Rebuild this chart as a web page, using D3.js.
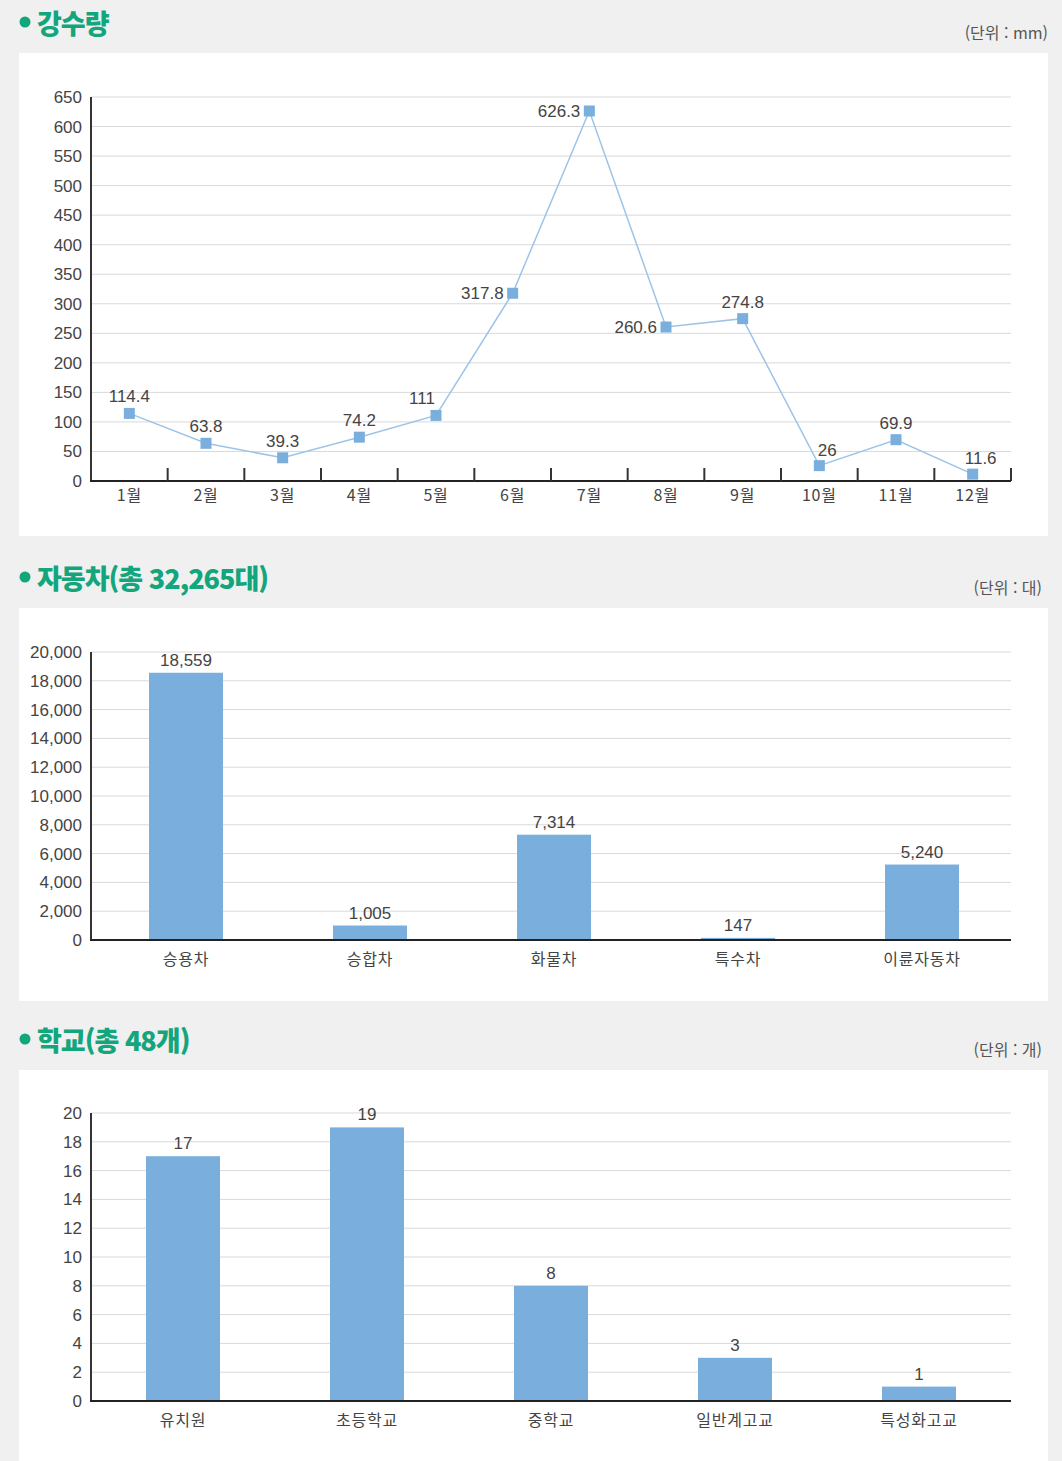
<!DOCTYPE html>
<html lang="ko">
<head>
<meta charset="UTF-8">
<title>강수량 · 자동차 · 학교</title>
<script src="https://d3js.org/d3.v7.min.js"></script>
<style>
  body { margin: 0; background: #f0f0f0; font-family: "Noto Sans CJK KR", "Noto Sans", sans-serif; }
  svg { display: block; }
  .grid line { stroke: #d9d9d9; stroke-width: 1; }
  .tick-label { font-size: 17px; fill: #444; font-family: "Liberation Sans", Arial, sans-serif; }
  .cat-label { font-size: 16px; fill: #444; letter-spacing: 0.8px; }
  .val-label { font-size: 17px; fill: #444; font-family: "Liberation Sans", Arial, sans-serif; }
  .title { font-size: 27px; font-weight: 900; fill: #13a57b; letter-spacing: -1px; }
  .unit { font-size: 16px; fill: #555; }
</style>
</head>
<body>
<svg id="chart" width="1062" height="1461"></svg>
<script>
// 강수량 (mm)
const rainMonths = ["1월","2월","3월","4월","5월","6월","7월","8월","9월","10월","11월","12월"];
const rainValues = [114.4, 63.8, 39.3, 74.2, 111, 317.8, 626.3, 260.6, 274.8, 26, 69.9, 11.6];
const rainLabels = ["114.4","63.8","39.3","74.2","111","317.8","626.3","260.6","274.8","26","69.9","11.6"];
const rainLabelSide = ["top","top","top","top","topleft","left","left","left","top","topright","top","topright"];
const rainTicks = d3.range(0, 651, 50);

// 자동차 (대)
const carTypes = ["승용차","승합차","화물차","특수차","이륜자동차"];
const carValues = [18559, 1005, 7314, 147, 5240];
const carTicks = d3.range(0, 20001, 2000);

// 학교 (개)
const schoolTypes = ["유치원","초등학교","중학교","일반계고교","특성화고교"];
const schoolValues = [17, 19, 8, 3, 1];
const schoolTicks = d3.range(0, 21, 2);

const svg = d3.select("#chart");
const fmt = d3.format(",");

function panel(top, bottom, title, unit, unitX) {
  svg.append("rect").attr("x", 19).attr("y", top).attr("width", 1029).attr("height", bottom - top).attr("fill", "#fff");
  svg.append("circle").attr("cx", 25).attr("cy", top - 31).attr("r", 5.5).attr("fill", "#13a57b");
  svg.append("text").attr("class", "title").attr("x", 37).attr("y", top - 19).text(title);
  svg.append("text").attr("class", "unit").attr("x", unitX).attr("y", top - 14).attr("text-anchor", "end").text(unit);
}

function yAxis(g, y, ticks, fmtTick) {
  const grid = g.append("g").attr("class", "grid");
  grid.selectAll("line").data(ticks.filter(t => t > 0)).join("line")
    .attr("x1", 91).attr("x2", 1011).attr("y1", d => y(d)).attr("y2", d => y(d));
  g.append("g").selectAll("text").data(ticks).join("text")
    .attr("class", "tick-label").attr("x", 82).attr("y", d => y(d) + 6)
    .attr("text-anchor", "end").text(fmtTick);
  g.append("line").attr("x1", 91).attr("x2", 91).attr("y1", y.range()[1]).attr("y2", y.range()[0] + 1)
    .attr("stroke", "#333").attr("stroke-width", 2);
  g.append("line").attr("x1", 90).attr("x2", 1011).attr("y1", y.range()[0]).attr("y2", y.range()[0])
    .attr("stroke", "#222").attr("stroke-width", 2);
}

// ---- chart 1: line ----
panel(53, 536, "강수량", "(단위 : mm)", 1048);
{
  const g = svg.append("g");
  const x = d3.scaleBand().domain(rainMonths).range([91, 1011]);
  const y = d3.scaleLinear().domain([0, 650]).range([481, 97]);
  yAxis(g, y, rainTicks, d => d);
  // category ticks
  g.append("g").selectAll("line").data(rainMonths).join("line")
    .attr("x1", (d, i) => 91 + x.bandwidth() * (i + 1)).attr("x2", (d, i) => 91 + x.bandwidth() * (i + 1))
    .attr("y1", 468).attr("y2", 481).attr("stroke", "#333").attr("stroke-width", 2);
  g.append("g").selectAll("text").data(rainMonths).join("text")
    .attr("class", "cat-label").attr("x", d => x(d) + x.bandwidth() / 2).attr("y", 501)
    .attr("text-anchor", "middle").text(d => d);
  const cx = (d, i) => x(rainMonths[i]) + x.bandwidth() / 2;
  g.append("path").datum(rainValues)
    .attr("d", d3.line().x(cx).y(d => y(d)))
    .attr("fill", "none").attr("stroke", "#9cc4e8").attr("stroke-width", 1.5);
  g.append("g").selectAll("rect").data(rainValues).join("rect")
    .attr("x", (d, i) => cx(d, i) - 5.5).attr("y", d => y(d) - 5.5)
    .attr("width", 11).attr("height", 11).attr("fill", "#7aaedc");
  const off = {
    top: [0, -11, "middle"], topleft: [-14, -11, "middle"], topright: [8, -10, "middle"],
    left: [-9, 6, "end"]
  };
  g.append("g").selectAll("text").data(rainValues).join("text")
    .attr("class", "val-label")
    .attr("x", (d, i) => cx(d, i) + off[rainLabelSide[i]][0])
    .attr("y", (d, i) => y(d) + off[rainLabelSide[i]][1])
    .attr("text-anchor", (d, i) => off[rainLabelSide[i]][2])
    .text((d, i) => rainLabels[i]);
}

// ---- bar charts ----
function barChart(top, bottom, title, unit, unitX, cats, vals, ticks, maxV, yTop, yBase, shift) {
  panel(top, bottom, title, unit, unitX);
  const g = svg.append("g");
  const x = d3.scaleBand().domain(cats).range([91 + shift, 1011 + shift]);
  const y = d3.scaleLinear().domain([0, maxV]).range([yBase, yTop]);
  yAxis(g, y, ticks, d => fmt(d));
  const bw = 74;
  g.append("g").selectAll("rect").data(vals).join("rect")
    .attr("x", (d, i) => x(cats[i]) + x.bandwidth() / 2 - bw / 2)
    .attr("y", d => y(d)).attr("width", bw).attr("height", d => yBase - y(d))
    .attr("fill", "#7aaedc");
  // redraw baseline over bars
  g.append("line").attr("x1", 90).attr("x2", 1011).attr("y1", yBase).attr("y2", yBase)
    .attr("stroke", "#222").attr("stroke-width", 2);
  g.append("g").selectAll("text.v").data(vals).join("text")
    .attr("class", "val-label").attr("text-anchor", "middle")
    .attr("x", (d, i) => x(cats[i]) + x.bandwidth() / 2).attr("y", d => y(d) - 7)
    .text(d => fmt(d));
  g.append("g").selectAll("text.c").data(cats).join("text")
    .attr("class", "cat-label").attr("text-anchor", "middle")
    .attr("x", d => x(d) + x.bandwidth() / 2).attr("y", yBase + 25)
    .text(d => d);
}

barChart(608, 1001, "자동차(총 32,265대)", "(단위 : 대)", 1042, carTypes, carValues, carTicks, 20000, 652, 940, 3);
barChart(1070, 1461, "학교(총 48개)", "(단위 : 개)", 1042, schoolTypes, schoolValues, schoolTicks, 20, 1113, 1401, 0);
</script>
</body>
</html>
